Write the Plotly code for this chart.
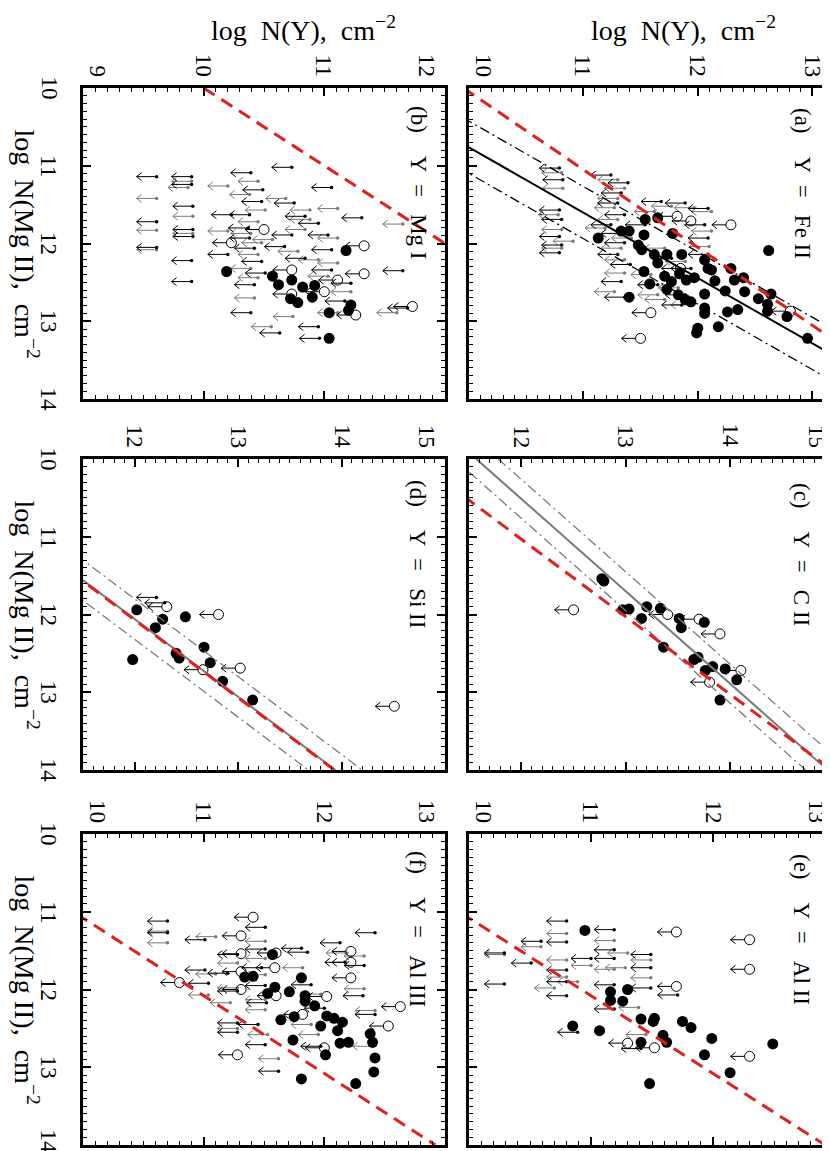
import math
import plotly.graph_objects as go

FIG_W, FIG_H = 830, 1151
FONT = "Liberation Serif"
RED = "#e0201c"
GRAY = "#7a7a7a"
NB = "\u00a0"

# all points are (log N(Mg II), log N(Y))
MG_RANGE = [10, 14]
MG_TICKS = [10, 11, 12, 13, 14]

# (a) Y = Fe II
fe_det = [(11.93, 11.13), (11.84, 11.33), (11.84, 11.40), (11.69, 11.54), (11.67, 11.65),
          (11.89, 11.53), (12.02, 11.48), (12.08, 11.51), (12.14, 11.62), (12.14, 11.73),
          (12.25, 11.65), (12.14, 11.86), (11.87, 11.78), (12.36, 11.53), (12.42, 11.71),
          (12.52, 11.58), (12.49, 11.77), (12.39, 11.84), (12.47, 11.90), (12.44, 11.97),
          (12.59, 11.73), (12.66, 11.83), (12.72, 11.89), (12.75, 11.94), (12.65, 12.06),
          (12.69, 11.40), (12.21, 12.06), (12.32, 12.09), (12.34, 12.12), (12.48, 12.15),
          (12.61, 12.24), (12.32, 12.29), (12.47, 12.32), (12.44, 12.40), (12.62, 12.41),
          (12.83, 12.06), (12.90, 12.06), (12.88, 12.26), (12.85, 12.35), (13.07, 12.18),
          (13.09, 12.00), (13.15, 11.99), (12.71, 12.53), (12.65, 12.64), (12.78, 12.61),
          (12.87, 12.61), (12.94, 12.78), (13.22, 12.96), (12.09, 12.62)]
fe_open = [(11.76, 12.29), (12.89, 11.59), (13.22, 11.50), (11.65, 11.82), (11.71, 11.94),
           (12.87, 12.81), (12.32, 11.85)]
fe_lim = [(11.03, 10.79), (11.18, 10.82), (11.57, 10.79), (11.69, 10.81), (11.91, 10.79),
          (12.02, 10.81), (12.12, 10.79), (11.12, 11.24), (11.22, 11.39), (11.35, 11.33),
          (11.48, 11.30), (11.63, 11.36), (11.76, 11.24), (11.87, 11.33), (11.99, 11.36),
          (12.14, 11.30), (12.27, 11.41), (12.49, 11.33), (12.69, 11.36), (11.46, 11.68),
          (11.48, 11.89), (11.55, 12.09), (11.76, 12.06), (11.93, 12.09), (12.14, 12.09),
          (12.32, 11.94), (12.66, 11.89), (12.79, 11.86), (12.19, 11.77), (12.53, 11.65),
          (11.76, 11.54)]
fe_lim_gray = [(11.09, 10.81), (11.29, 10.82), (11.63, 10.78), (11.82, 10.81), (11.97, 10.91),
               (12.06, 10.81), (11.18, 11.30), (11.29, 11.36), (11.42, 11.30), (11.54, 11.27),
               (11.69, 11.30), (11.80, 11.19), (11.93, 11.42), (12.06, 11.33), (12.21, 11.36),
               (12.38, 11.36), (12.62, 11.27), (11.52, 11.77), (11.54, 11.97), (11.59, 12.12),
               (11.84, 12.12), (12.04, 12.10), (12.23, 11.89), (12.57, 11.83), (12.79, 11.94),
               (12.06, 11.71), (12.40, 11.59), (12.72, 11.71), (11.59, 11.62), (12.66, 11.65)]
fe_ref = -0.05
fe_fit = (10.08, 1.19, 10.83, 0.40)

# (b) Y = Mg I
mg_det = [(12.09, 11.18), (12.36, 10.19), (12.42, 10.57), (12.53, 10.62), (12.47, 10.73),
          (12.56, 10.82), (12.54, 10.92), (12.69, 10.90), (12.71, 10.72), (12.76, 10.78),
          (12.79, 11.22), (12.86, 11.20), (12.89, 11.04), (13.22, 11.04)]
mg_open = [(12.03, 11.33), (12.39, 11.33), (12.81, 11.73), (12.92, 11.26), (12.47, 11.11),
           (12.62, 11.00), (12.34, 10.73), (12.65, 10.73), (11.82, 10.50), (11.99, 10.23)]
mg_lim = [(11.14, 9.61), (11.72, 9.61), (12.05, 9.61), (11.14, 9.90), (11.24, 9.90),
          (11.52, 9.91), (11.82, 9.91), (11.91, 9.91), (12.22, 9.90), (12.49, 9.90),
          (11.09, 10.39), (11.31, 10.49), (11.46, 10.48), (11.63, 10.38), (11.80, 10.37),
          (11.93, 10.38), (12.06, 10.42), (12.23, 10.48), (12.38, 10.51), (12.53, 10.42),
          (12.89, 10.39), (13.15, 10.63), (11.02, 10.73), (11.48, 10.75), (11.65, 10.84),
          (11.74, 10.95), (11.89, 10.73), (12.04, 10.67), (12.19, 10.84), (12.08, 11.06),
          (11.89, 11.03), (12.34, 11.06), (12.51, 11.22), (12.74, 11.17), (13.07, 10.95),
          (13.22, 10.96), (11.28, 11.06), (11.67, 11.31), (12.35, 11.65), (12.83, 11.69),
          (11.63, 10.23), (12.14, 10.20)]
mg_lim_gray = [(11.42, 9.61), (11.83, 9.61), (12.08, 9.61), (11.20, 9.90), (11.28, 9.87),
               (11.65, 9.91), (11.87, 9.91), (11.20, 10.45), (11.37, 10.38), (11.57, 10.51),
               (11.72, 10.45), (11.87, 10.39), (11.99, 10.48), (12.14, 10.45), (12.32, 10.39),
               (12.44, 10.45), (12.70, 10.42), (13.07, 10.56), (11.42, 10.68), (11.57, 10.88),
               (11.69, 10.88), (11.82, 10.84), (11.95, 10.57), (12.10, 10.78), (12.21, 10.95),
               (11.93, 11.11), (12.25, 11.11), (12.42, 11.03), (12.62, 11.22), (12.89, 11.11),
               (12.94, 10.74), (11.55, 11.11), (11.75, 11.65), (12.89, 11.60), (11.84, 10.20),
               (11.26, 10.20)]
mg_ref = 0.0

# (c) Y = C II
c_det = [(11.54, 12.77), (11.57, 12.79), (11.94, 12.97), (11.93, 13.03), (11.90, 13.20),
         (11.92, 13.33), (12.05, 13.15), (12.05, 13.51), (12.17, 13.53), (12.10, 13.75),
         (12.42, 13.36), (12.58, 13.65), (12.55, 13.69), (12.67, 13.83), (12.72, 13.76),
         (12.70, 13.95), (12.84, 14.06), (13.10, 13.90)]
c_open = [(11.94, 12.50), (12.00, 13.40), (12.06, 13.70), (12.25, 13.90), (12.72, 14.10),
          (12.87, 13.80)]
c_ref = 0.97
c_fit = (11.57, 0.84, 10.0, 0.21)

# (d) Y = Si II
si_det = [(11.94, 12.02), (12.06, 12.27), (12.17, 12.20), (12.03, 12.49), (12.42, 12.67),
          (12.50, 12.40), (12.56, 12.43), (12.62, 12.73), (12.58, 11.98), (12.86, 12.85),
          (13.10, 13.14)]
si_open = [(11.90, 12.31), (12.00, 12.81), (12.69, 13.02), (12.71, 12.66), (13.18, 14.51)]
si_lim = [(11.78, 12.21), (11.85, 12.29)]
si_ref = -0.07
si_fit = (11.50, 1.0, 11.56, 0.26)

# (e) Y = Al II
al2_det = [(11.24, 10.95), (12.03, 11.16), (12.00, 11.30), (12.14, 11.16), (12.15, 11.26),
           (12.38, 11.41), (12.37, 11.52), (12.41, 11.51), (12.41, 11.75), (12.49, 11.82),
           (12.59, 11.59), (12.68, 11.62), (12.68, 11.41), (12.47, 10.85), (12.53, 11.07),
           (12.63, 11.99), (12.84, 11.93), (13.07, 12.14), (12.70, 12.49), (13.21, 11.48)]
al2_open = [(11.26, 11.70), (11.36, 12.30), (11.74, 12.30), (11.96, 11.70), (12.69, 11.30),
            (12.75, 11.52), (12.86, 12.30)]
al2_lim = [(11.53, 10.29), (11.93, 10.29), (11.38, 10.59), (11.66, 10.51), (11.12, 10.80),
           (11.39, 10.80), (11.75, 10.80), (11.90, 10.80), (12.08, 10.80), (11.60, 11.00),
           (11.23, 11.19), (11.49, 11.19), (11.60, 11.19), (11.94, 11.19), (12.25, 11.19),
           (11.55, 11.49), (11.72, 11.49), (11.98, 11.49), (12.07, 11.71), (12.55, 10.89),
           (12.76, 11.41)]
al2_lim_gray = [(11.55, 10.29), (11.45, 10.59), (11.28, 10.80), (11.62, 10.80), (11.84, 10.80),
                (11.98, 10.70), (11.69, 11.00), (11.90, 10.89), (11.37, 11.19), (11.53, 11.30),
                (11.74, 11.19), (11.72, 11.28), (11.62, 11.49), (11.85, 11.49), (12.23, 11.39),
                (12.58, 11.45)]
al2_ref = -1.08

# (f) Y = Al III
al3_det = [(11.55, 11.57), (11.84, 11.34), (11.83, 11.41), (11.97, 11.59), (12.05, 11.53),
           (12.03, 11.71), (11.85, 11.81), (12.08, 11.84), (12.15, 11.84), (12.21, 11.92),
           (12.35, 11.75), (12.39, 11.64), (12.34, 12.02), (12.37, 12.08), (12.47, 11.97),
           (12.42, 12.15), (12.53, 12.11), (12.69, 12.13), (12.68, 12.20), (12.65, 11.74),
           (12.84, 12.01), (12.57, 12.38), (12.68, 12.40), (12.88, 12.42), (13.06, 12.41),
           (13.21, 12.26), (13.15, 11.81)]
al3_open = [(11.07, 11.41), (11.31, 11.31), (11.54, 11.31), (11.72, 11.59), (11.77, 11.31),
            (11.91, 10.80), (12.00, 11.31), (12.08, 11.60), (12.09, 12.02), (12.32, 11.82),
            (11.51, 12.22), (11.65, 12.22), (11.85, 12.22), (12.22, 12.63), (12.47, 12.53),
            (12.84, 11.28), (12.75, 12.00), (11.53, 11.60)]
al3_lim = [(11.12, 10.70), (11.27, 10.70), (11.36, 11.01), (11.75, 11.01), (11.92, 11.04),
           (11.55, 11.28), (11.79, 11.20), (12.02, 11.28), (12.43, 11.28), (12.55, 11.28),
           (11.20, 11.51), (11.48, 11.51), (11.72, 11.48), (11.95, 11.51), (12.17, 11.52),
           (12.45, 11.45), (12.71, 11.51), (13.05, 11.62), (11.47, 11.81), (11.52, 11.86),
           (11.94, 11.89), (12.24, 12.00), (12.73, 11.97), (11.40, 12.13), (11.65, 12.17),
           (11.69, 12.33), (12.08, 12.32), (11.27, 12.42), (12.32, 12.42)]
al3_lim_gray = [(11.25, 10.70), (11.40, 10.70), (11.32, 11.10), (11.80, 11.10), (12.07, 11.04),
                (11.66, 11.28), (11.98, 11.28), (12.17, 11.22), (12.50, 11.28), (11.38, 11.51),
                (11.60, 11.51), (11.81, 11.51), (12.13, 11.51), (12.26, 11.51), (12.58, 11.53),
                (12.89, 11.62), (11.72, 11.82), (12.06, 11.97), (12.45, 11.89), (12.58, 11.95),
                (11.53, 12.18), (11.57, 12.33), (11.99, 12.33), (12.27, 12.42), (12.73, 12.40)]
al3_ref = -1.08

COLS = {"L": (75, 437), "R": (461, 827)}
ROWS = {1: (80, 391), 2: (451, 762), 3: (826, 1137)}
LABEL_INSET = {"L": 27, "R": 33}


def lab(letter, ion):
    return "(" + letter + ")" + NB * 4 + "Y" + NB * 2 + "=" + NB * 3 + ion


panels = [
    dict(col="R", row=1, rng=[10, 13.2], label=lab("a", "Fe II"),
         det=fe_det, opn=fe_open, lim=fe_lim, lim_gray=fe_lim_gray, ref=fe_ref, fit=fe_fit, fit_color="black"),
    dict(col="L", row=1, rng=[9, 12], label=lab("b", "Mg I"),
         det=mg_det, opn=mg_open, lim=mg_lim, lim_gray=mg_lim_gray, ref=mg_ref, fit=None, fit_color=None),
    dict(col="R", row=2, rng=[11.5, 15], label=lab("c", "C II"),
         det=c_det, opn=c_open, lim=[], lim_gray=[], ref=c_ref, fit=c_fit, fit_color=GRAY),
    dict(col="L", row=2, rng=[11.5, 15], label=lab("d", "Si II"),
         det=si_det, opn=si_open, lim=si_lim, lim_gray=[], ref=si_ref, fit=si_fit, fit_color=GRAY),
    dict(col="R", row=3, rng=[10, 13], label=lab("e", "Al II"),
         det=al2_det, opn=al2_open, lim=al2_lim, lim_gray=al2_lim_gray, ref=al2_ref, fit=None, fit_color=None),
    dict(col="L", row=3, rng=[10, 13], label=lab("f", "Al III"),
         det=al3_det, opn=al3_open, lim=al3_lim, lim_gray=al3_lim_gray, ref=al3_ref, fit=None, fit_color=None),
]


def arrows(points, sx, sy, start, length, head_d=5.0, head_w=4.0):
    # leftward arrows (upper limits on Y), sizes given in pixels
    xs, ys = [], []
    for mg, val in points:
        a = val - start / sx
        tip = val - (start + length) / sx
        xs += [a, tip, None, tip + head_d / sx, tip, tip + head_d / sx, None]
        ys += [mg, mg, None, mg - head_w / sy, mg, mg + head_w / sy, None]
    return xs, ys


fig = go.Figure()
annotations = []
tick_font = dict(family=FONT, size=23, color="black")

for i, p in enumerate(panels, start=1):
    sfx = "" if i == 1 else str(i)
    xa, ya = "x" + sfx, "y" + sfx
    x0, x1 = COLS[p["col"]]
    top, bot = ROWS[p["row"]]
    sx = (x1 - x0) / (p["rng"][1] - p["rng"][0])
    sy = (bot - top) / (MG_RANGE[1] - MG_RANGE[0])

    common = dict(xaxis=xa, yaxis=ya, showlegend=False, hoverinfo="skip")

    # upper limits with small dots
    for pts, col in ((p["lim_gray"], GRAY), (p["lim"], "black")):
        if not pts:
            continue
        ax, ay = arrows(pts, sx, sy, 0, 20)
        fig.add_trace(go.Scatter(x=ax, y=ay, mode="lines", line=dict(color=col, width=1), **common))
        fig.add_trace(go.Scatter(x=[v for _, v in pts], y=[m for m, _ in pts], mode="markers",
                                 marker=dict(size=3.5, color=col), **common))

    # open circles with arrows
    if p["opn"]:
        ax, ay = arrows(p["opn"], sx, sy, 5, 14)
        fig.add_trace(go.Scatter(x=ax, y=ay, mode="lines", line=dict(color="black", width=1), **common))
        fig.add_trace(go.Scatter(x=[v for _, v in p["opn"]], y=[m for m, _ in p["opn"]], mode="markers",
                                 marker=dict(symbol="circle-open", size=10, color="black",
                                             line=dict(width=1, color="black")), **common))

    # detections
    fig.add_trace(go.Scatter(x=[v for _, v in p["det"]], y=[m for m, _ in p["det"]], mode="markers",
                             marker=dict(size=11, color="black"), **common))

    # fit lines
    if p["fit"]:
        a, b, xm, s = p["fit"]
        for off, dash, w in ((0, "solid", 2), (s, "10px,4px,2px,4px", 1.3), (-s, "10px,4px,2px,4px", 1.3)):
            fig.add_trace(go.Scatter(x=[a + b * (m - xm) + off for m in MG_RANGE], y=MG_RANGE, mode="lines",
                                     line=dict(color=p["fit_color"], width=w, dash=dash), **common))

    # reference (red dashed)
    fig.add_trace(go.Scatter(x=[m + p["ref"] for m in MG_RANGE], y=MG_RANGE, mode="lines",
                             line=dict(color=RED, width=3, dash="13px,8px"), **common))

    axis_common = dict(showline=True, linecolor="black", linewidth=2.5, mirror="allticks",
                       ticks="inside", ticklen=8, tickwidth=1.5, tickcolor="black",
                       minor=dict(dtick=0.1, ticks="inside", ticklen=4, tickwidth=1, tickcolor="black"),
                       showgrid=False, zeroline=False, dtick=1, tick0=0,
                       showticklabels=False, automargin=False)
    fig.update_layout({
        "xaxis" + sfx: dict(domain=[x0 / FIG_W, x1 / FIG_W], anchor=ya, range=p["rng"], **axis_common),
        "yaxis" + sfx: dict(domain=[1 - bot / FIG_H, 1 - top / FIG_H], anchor=xa, range=[14, 10],
                            **axis_common),
    })

    # rotated tick labels along the top edge
    lo, hi = p["rng"]
    for v in range(math.ceil(lo), math.floor(hi) + 1):
        anchor = "left" if v == lo else ("right" if v == hi else "center")
        annotations.append(dict(text=str(v), x=v, xref=xa, y=1 - (top - 9) / FIG_H, yref="paper",
                                xanchor=anchor, yanchor="bottom", textangle=90, showarrow=False,
                                xshift=-4 if v == hi else 0, font=tick_font))
    # rotated tick labels on the left edge (left column only)
    if p["col"] == "L":
        for v in MG_TICKS:
            annotations.append(dict(text=str(v), x=(x0 - 20) / FIG_W, xref="paper", y=v, yref=ya,
                                    xanchor="right", yanchor="middle", textangle=90, showarrow=False,
                                    yshift=4 if (v == MG_TICKS[-1] and p["row"] == 3) else 0,
                                    font=tick_font))

    annotations.append(dict(text=p["label"], x=(x1 - LABEL_INSET[p["col"]]) / FIG_W, y=1 - (top + 95) / FIG_H,
                            xref="paper", yref="paper", xanchor="center", yanchor="middle",
                            textangle=90, showarrow=False,
                            font=dict(family=FONT, size=23, color="black")))

ytitle = "log" + NB * 2 + "N(Y)," + NB * 2 + "cm<sup>\u22122</sup>"
xtitle = "log" + NB * 2 + "N(Mg" + NB + "II)," + NB * 2 + "cm<sup>\u22122</sup>"
for cx in (295, 675):
    annotations.append(dict(text=ytitle, x=cx / FIG_W, y=1 - 20 / FIG_H, xref="paper", yref="paper",
                            xanchor="center", yanchor="middle", showarrow=False,
                            font=dict(family=FONT, size=28, color="black")))
for r in ROWS.values():
    cy = (r[0] + r[1]) / 2
    annotations.append(dict(text=xtitle, x=18 / FIG_W, y=1 - cy / FIG_H, xref="paper", yref="paper",
                            xanchor="center", yanchor="middle", textangle=90, showarrow=False,
                            font=dict(family=FONT, size=28, color="black")))

fig.update_layout(width=FIG_W, height=FIG_H, margin=dict(l=0, r=0, t=0, b=0),
                  paper_bgcolor="white", plot_bgcolor="white", annotations=annotations)

fig.write_html("out.html")
